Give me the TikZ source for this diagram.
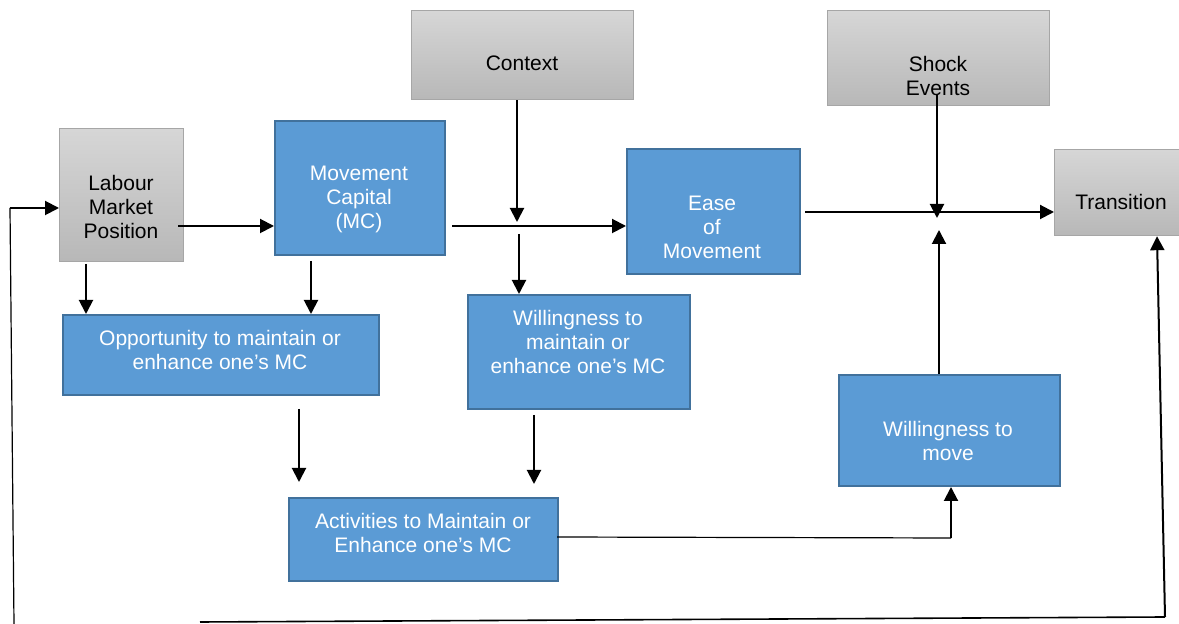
\documentclass[tikz,border=0pt]{standalone}
\usepackage{fontspec}
\setmainfont{Liberation Sans}
\usetikzlibrary{arrows.meta}
\definecolor{boxblue}{HTML}{5B9BD5}
\definecolor{boxedge}{HTML}{41719C}
\definecolor{grayedge}{HTML}{A6A6A6}
\tikzset{
  bluebox/.style={draw=boxedge, line width=1pt, fill=boxblue, inner sep=0pt, anchor=north west},
  graybox/.style={draw=grayedge, line width=0.6pt, top color=black!16, bottom color=black!28, inner sep=0pt, anchor=north west},
  wtxt/.style={text=white, align=center, font=\fontsize{10.5}{12}\selectfont, inner sep=0pt},
  btxt/.style={text=black, align=center, font=\fontsize{10.5}{12}\selectfont, inner sep=0pt},
  arr/.style={line width=1pt, -{Triangle[length=7pt,width=7pt]}},
  thinline/.style={line width=0.6pt},
}
\begin{document}
\begin{tikzpicture}[x=0.5pt,y=-0.5pt]
\useasboundingbox (0,0) rectangle (1179,624);
% boxes
\node[graybox, minimum width=62pt, minimum height=66.5pt] (lmp) at (59,128) {};
\node[btxt] (lmpt) at (121,207) {Labour\\Market\\Position};
\node[bluebox, minimum width=85pt, minimum height=67pt] (mc) at (274,120) {};
\node[wtxt] (mct) at (359,199) {Movement\\Capital\\(MC)};
\node[graybox, minimum width=111pt, minimum height=44.5pt] (ctx) at (411,10) {};
\node[btxt] (ctxt) at (522,63) {Context};
\node[graybox, minimum width=111pt, minimum height=47.5pt] (shock) at (827,10) {};
\node[btxt] (shockt) at (938,76) {Shock\\Events};
\node[graybox, minimum width=64pt, minimum height=43pt] (trans) at (1054,149) {};
\node[btxt] (transt) at (1121,202) {Transition};
\node[bluebox, minimum width=86.5pt, minimum height=62.5pt] (ease) at (626,148) {};
\node[wtxt] (easet) at (712,227) {Ease\\of\\Movement};
\node[bluebox, minimum width=158pt, minimum height=40pt] (opp) at (62,314) {};
\node[wtxt] (oppt) at (220,350) {Opportunity to maintain or\\enhance one’s MC};
\node[bluebox, minimum width=111pt, minimum height=57pt] (wmain) at (467,294) {};
\node[wtxt] (wmaint) at (578,342) {Willingness to\\maintain or\\enhance one’s MC};
\node[bluebox, minimum width=110.5pt, minimum height=55.5pt] (wmove) at (838,374) {};
\node[wtxt] (wmovet) at (948,441) {Willingness to\\move};
\node[bluebox, minimum width=134.5pt, minimum height=41.5pt] (act) at (288,497) {};
\node[wtxt] (actt) at (423,533) {Activities to Maintain or\\Enhance one’s MC};
% connectors
\coordinate (a1) at (178,226);
\draw[arr] (a1) -- (a1 -| mc.west);
\coordinate (a2) at (452,226);
\draw[arr] (a2) -- (a2 -| ease.west);
\coordinate (cx) at (517,222);
\draw[arr] (ctx.south -| cx) -- (cx);
\coordinate (a3) at (519,234);
\draw[arr] (a3) -- (a3 |- wmain.north);
\coordinate (a4) at (805,212);
\draw[arr] (a4) -- (a4 -| trans.west);
\coordinate (s1) at (937,95);
\coordinate (s2) at (937,218);
\draw[arr] (s1) -- (s2);
\coordinate (m1) at (939,230);
\draw[arr] (wmove.north -| m1) -- (m1);
\coordinate (d1) at (86,264);
\draw[arr] (d1) -- (d1 |- opp.north);
\coordinate (d2) at (311,261);
\draw[arr] (d2) -- (d2 |- opp.north);
\coordinate (d3a) at (299,409);
\coordinate (d3b) at (299,482);
\draw[arr] (d3a) -- (d3b);
\coordinate (d4a) at (534,415);
\coordinate (d4b) at (534,484);
\draw[arr] (d4a) -- (d4b);
\coordinate (h0) at (557,537);
\coordinate (h1) at (951,538);
\draw[thinline] (h0) -- (h1);
\draw[arr] (h1) -- (h1 |- wmove.south);
% feedback loop
\coordinate (f0) at (14,624);
\coordinate (f1) at (10,208);
\coordinate (fb) at (200,622);
\coordinate (f2) at (1165,617);
\coordinate (f3) at (1157,300);
\draw[thinline] (f0) -- (f1);
\draw[arr] (f1) -- (f1 -| lmp.west);
\draw[line width=0.8pt] (fb) -- (f2);
\draw[arr] (f2) -- (f3 |- trans.south);
\end{tikzpicture}
\end{document}
